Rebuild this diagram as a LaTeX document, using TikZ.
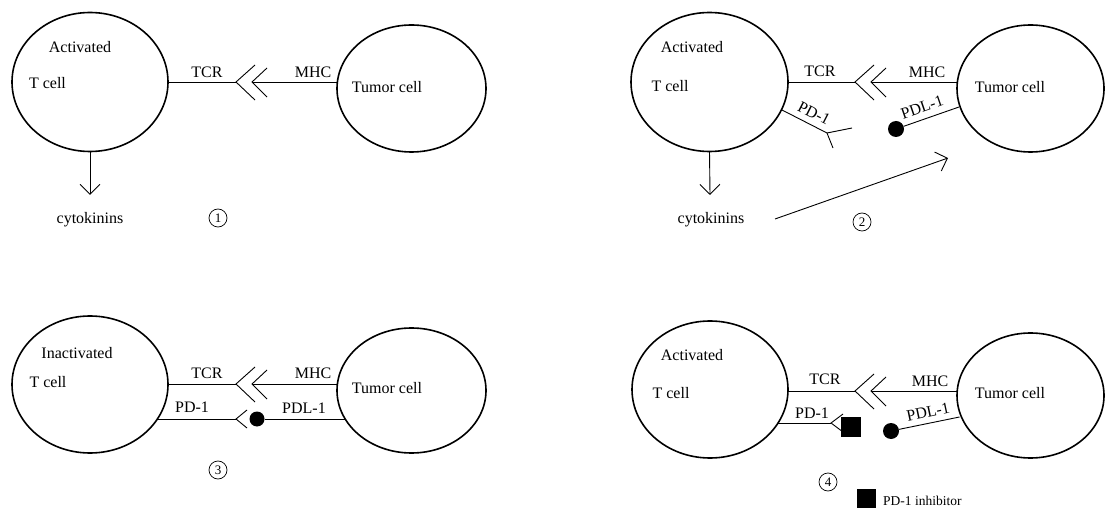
\documentclass[tikz,border=0pt]{standalone}
\usepackage{fontspec}
\setmainfont{Liberation Serif}
\usetikzlibrary{shapes.geometric,arrows.meta}
\begin{document}
\begin{tikzpicture}[x=1pt,y=-1pt,
  cell/.style={draw, ellipse, line width=1.6pt, inner sep=0pt, outer sep=0pt},
  rec/.style={line width=0.9pt},
  lbl/.style={font=\fontsize{16}{18}\selectfont, inner sep=0pt},
  dotc/.style={circle, fill=black, inner sep=0pt, minimum size=16pt},
  sq/.style={rectangle, fill=black, inner sep=0pt, minimum size=20pt},
  num/.style={circle, draw, line width=0.7pt, inner sep=0pt, minimum size=18pt, font=\fontsize{13}{13}\selectfont},
  arr/.style={rec, -{Straight Barb[length=10pt,width=20pt]}}
]
\useasboundingbox (0,0) rectangle (1105,510);

% ---------- Panel 1 ----------
\node[cell, minimum width=156pt, minimum height=139pt] (T1) at (90,82) {};
\node[cell, minimum width=149pt, minimum height=127pt] (U1) at (411.5,88.5) {};
\node[lbl] at (80,47) {Activated};
\node[lbl] at (47.5,83) {T cell};
\node[lbl] at (387,87) {Tumor cell};
\coordinate (a1) at (236,82);
\coordinate (b1) at (252,82);
\draw[rec] (T1.east) -- (a1);
\draw[rec] (a1) ++(19,-17) -- (a1) -- ++(19,18);
\draw[rec] (b1) ++(15,-14) -- (b1) -- ++(15,15);
\draw[rec] (b1) -- (b1 -| U1.west);
\node[lbl] at (207,72) {TCR};
\node[lbl] at (313,72) {MHC};
\coordinate (d1) at (90,195);
\draw[arr] (T1.south) -- (d1);
\node[lbl] (ck1) at (90,220) {cytokinins};
\node[num] (n1) at (218,218) {1};

% ---------- Panel 2 ----------
\node[cell, minimum width=157pt, minimum height=139pt] (T2) at (709.5,82) {};
\node[cell, minimum width=147pt, minimum height=127pt] (U2) at (1030.5,88.5) {};
\node[lbl] at (692,47) {Activated};
\node[lbl] at (670,86) {T cell};
\node[lbl] at (1010,87) {Tumor cell};
\coordinate (a2) at (855,82);
\coordinate (b2) at (871,82);
\draw[rec] (T2.east) -- (a2);
\draw[rec] (a2) ++(19,-17) -- (a2) -- ++(19,18);
\draw[rec] (b2) ++(15,-14) -- (b2) -- ++(15,15);
\draw[rec] (b2) -- (b2 -| U2.west);
\node[lbl] at (820,71) {TCR};
\node[lbl] at (927,72) {MHC};
% PD-1 receptor
\coordinate (p2s) at (782,110);
\coordinate (p2j) at (827,133);
\draw[rec] (p2s) -- (p2j) -- (852,128);
\draw[rec] (p2j) -- (833,148);
\node[lbl, rotate=-27] at (814,113) {PD-1};
% PDL-1 ligand
\node[dotc] (g2) at (896,129) {};
\coordinate (q2) at (959,107);
\draw[rec] (g2) -- (q2);
\node[lbl, rotate=19] at (922,107) {PDL-1};
% cytokinins
\coordinate (d2) at (710,195);
\draw[arr] (T2.south) -- (d2);
\node[lbl] (ck2) at (711,220) {cytokinins};
\coordinate (e2s) at (775,219);
\coordinate (e2t) at (948,158);
\draw[arr] (e2s) -- (e2t);
\node[num] (n2) at (862,222) {2};

% ---------- Panel 3 ----------
\node[cell, minimum width=156pt, minimum height=137pt] (T3) at (90,384.5) {};
\node[cell, minimum width=149pt, minimum height=125pt] (U3) at (411.5,390.5) {};
\node[lbl] at (77,353) {Inactivated};
\node[lbl] at (48,382) {T cell};
\node[lbl] at (387,388) {Tumor cell};
\coordinate (a3) at (236,384);
\coordinate (b3) at (252,384);
\draw[rec] (T3.east |- a3) -- (a3);
\draw[rec] (a3) ++(19,-17) -- (a3) -- ++(19,18);
\draw[rec] (b3) ++(15,-14) -- (b3) -- ++(15,15);
\draw[rec] (b3) -- (b3 -| U3.west);
\node[lbl] at (207,373) {TCR};
\node[lbl] at (313,373) {MHC};
\coordinate (p3s) at (157.4,419);
\coordinate (c3) at (236,419);
\draw[rec] (p3s) -- (c3);
\draw[rec] (c3) ++(11,-9) -- (c3) -- ++(11,9);
\node[dotc, minimum size=15pt] (g3) at (257,419) {};
\coordinate (q3) at (344.5,419);
\draw[rec] (g3) -- (q3);
\node[lbl] at (192,407) {PD-1};
\node[lbl] at (304,408) {PDL-1};
\node[num] (n3) at (218,470) {3};

% ---------- Panel 4 ----------
\node[cell, minimum width=156pt, minimum height=137pt] (T4) at (710,389.5) {};
\node[cell, minimum width=147pt, minimum height=125pt] (U4) at (1030.5,395.5) {};
\node[lbl] at (692,355) {Activated};
\node[lbl] at (671,393) {T cell};
\node[lbl] at (1010,393) {Tumor cell};
\coordinate (a4) at (855,391);
\coordinate (b4) at (871,391);
\draw[rec] (T4.east |- a4) -- (a4);
\draw[rec] (a4) ++(19,-17) -- (a4) -- ++(19,18);
\draw[rec] (b4) ++(15,-14) -- (b4) -- ++(15,15);
\draw[rec] (b4) -- (b4 -| U4.west);
\node[lbl] at (825,379) {TCR};
\node[lbl] at (930,381) {MHC};
\coordinate (p4s) at (777,423);
\coordinate (c4) at (831,423);
\draw[rec] (p4s) -- (c4);
\draw[rec] (c4) ++(12,-9) -- (c4) -- ++(12,9);
\node[sq] (s4) at (851,427) {};
\node[lbl] at (812,413) {PD-1};
\node[dotc] (g4) at (891,431) {};
\coordinate (q4) at (959.5,417);
\draw[rec] (g4) -- (q4);
\node[lbl, rotate=12] at (928,412) {PDL-1};
\node[num] (n4) at (828,482) {4};
% legend
\node[sq, minimum size=19pt] (leg) at (866.5,498) {};
\node[font=\fontsize{13.5}{15}\selectfont, inner sep=0pt, anchor=west] at (883,501) {PD-1 inhibitor};
\end{tikzpicture}
\end{document}
